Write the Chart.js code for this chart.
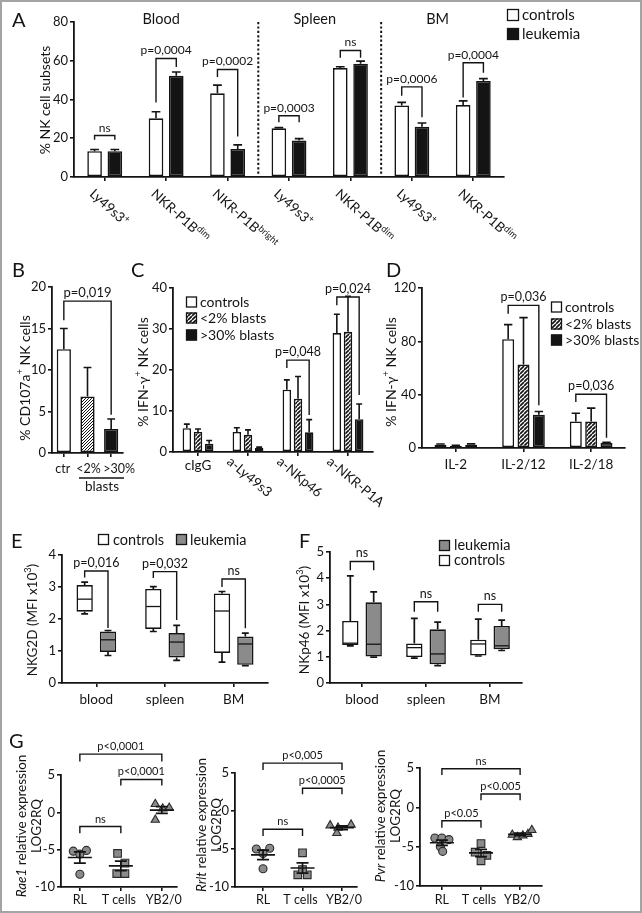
<!DOCTYPE html>
<html>
<head>
<meta charset="utf-8">
<title>NK cells in leukemia</title>
<script src="https://cdn.jsdelivr.net/npm/chart.js@4.4.1/dist/chart.umd.min.js"></script>
<style>
  html, body { margin: 0; background: #fff; }
  #page { position: relative; width: 642px; height: 913px; overflow: hidden; background: #fff; }
  #page canvas { position: absolute; }
  #frame { position: absolute; left: 0; top: 0; width: 642px; height: 913px; box-sizing: border-box; border: 2px solid #a3a3a3; }
</style>
</head>
<body>
<div id="page">
  <canvas id="panelA"></canvas>
  <canvas id="panelB"></canvas>
  <canvas id="panelC"></canvas>
  <canvas id="panelD"></canvas>
  <canvas id="panelE"></canvas>
  <canvas id="panelF"></canvas>
  <canvas id="panelG1"></canvas>
  <canvas id="panelG2"></canvas>
  <canvas id="panelG3"></canvas>
  <div id="frame"></div>
</div>
<script>
const FONT = "Lato, 'Open Sans', sans-serif";
const INK = "#141414";
const GREY = "#8b8b8b";

// ---------- A: NK subsets per organ
const aLabels = ["Ly49s3", "NKR-P1B", "NKR-P1B", "Ly49s3", "NKR-P1B", "Ly49s3", "NKR-P1B"];
const aLabelSup = ["+", "dim", "bright", "+", "dim", "+", "dim"];
const aControls = [13.3, 30.3, 43.2, 25.1, 56.2, 36.9, 37.1];
const aControlsErr = [0.9, 3.4, 4.2, 0.4, 0.7, 1.6, 2.2];
const aLeukemia = [13.3, 52.3, 14.5, 18.8, 58.5, 26.0, 49.6];
const aLeukemiaErr = [0.9, 1.9, 2.1, 1.0, 1.3, 1.9, 1.2];
const aTicks = [0, 20, 40, 60, 80];
const aTissues = ["Blood", "Spleen", "BM"];
const aTissueSpan = [[0, 2], [3, 4], [5, 6]];
// [category, bracket, left end, right end, text]
const aStats = [
  [0, 21.4, 19.2, 19.2, "ns"],
  [1, 61.2, 38.5, 56.8, "p=0,0004"],
  [2, 55.5, 51.6, 20.9, "p=0,0002"],
  [3, 31.6, 28.2, 28.2, "p=0,0003"],
  [4, 65.3, 61.5, 61.5, "ns"],
  [5, 46.5, 41.9, 30.8, "p=0,0006"],
  [6, 59.0, 41.0, 53.8, "p=0,0004"],
];

// ---------- B: CD107a
const bLabels = ["ctr", "<2%", ">30%"];
const bValues = [12.5, 6.8, 2.9];
const bErr = [2.5, 3.5, 1.2];
const bTicks = [0, 5, 10, 15, 20];

// ---------- C: IFN-g after receptor triggering
const cLabels = ["cIgG", "a-Ly49s3", "a-NKp46", "a-NKR-P1A"];
const cControls = [5.8, 4.9, 15.2, 29.0];
const cControlsErr = [1.0, 1.0, 2.4, 4.6];
const cLow = [4.9, 4.2, 13.0, 29.3];
const cLowErr = [0.7, 1.2, 5.4, 8.7];
const cHigh = [2.0, 1.0, 4.8, 8.0];
const cHighErr = [0.8, 0.2, 3.1, 3.7];
const cTicks = [0, 10, 20, 30, 40];
const cStats = [[2, 22.4, 20.5, 9.0, "p=0,048"], [3, 37.8, 35.8, 13.9, "p=0,024"]];

// ---------- D: IFN-g after cytokines
const dLabels = ["IL-2", "IL-2/12", "IL-2/18"];
const dControls = [2.5, 81.6, 19.9];
const dControlsErr = [0.5, 10.9, 6.2];
const dLow = [1.5, 62.7, 19.9];
const dLowErr = [0.5, 35.1, 10.0];
const dHigh = [2.5, 24.9, 3.7];
const dHighErr = [0.6, 2.5, 0.5];
const dTicks = [0, 40, 80, 120];
const dStats = [[1, 107, 100.7, 32, "p=0,036"], [2, 40.3, 34.5, 7.7, "p=0,036"]];
const blastGroups = ["controls", "<2% blasts", ">30% blasts"];

// ---------- E / F: MFI boxes, [min, q1, median, q3, max]
const organs = ["blood", "spleen", "BM"];
const eControls = [[2.16, 2.23, 2.62, 3.06, 3.15], [1.61, 1.69, 2.39, 2.94, 3.01], [0.65, 0.94, 2.25, 2.8, 2.86]];
const eLeukemia = [[0.86, 0.97, 1.35, 1.61, 1.64], [0.71, 0.8, 1.28, 1.56, 1.8], [0.54, 0.57, 1.22, 1.45, 1.56]];
const eTicks = [0, 1, 2, 3, 4];
const eStats = [[0, 3.5, 3.3, 1.72, "p=0,016"], [1, 3.48, 3.28, 1.97, "p=0,032"], [2, 3.25, 3.0, 1.71, "ns"]];
const fControls = [[1.42, 1.45, 1.52, 2.37, 4.09], [0.95, 0.99, 1.35, 1.51, 2.47], [1.03, 1.05, 1.49, 1.65, 2.44]];
const fLeukemia = [[0.99, 1.01, 1.48, 3.08, 3.48], [0.66, 0.72, 1.11, 2.05, 2.32], [1.24, 1.29, 1.42, 2.18, 2.4]];
const fTicks = [0, 1, 2, 3, 4, 5];
const fStats = [[0, 4.64, 4.3, 4.3, "ns"], [1, 3.1, 2.72, 2.72, "ns"], [2, 3.0, 2.72, 2.72, "ns"]];

// ---------- G: ligand expression, LOG2RQ per target
const gGroups = ["RL", "T cells", "YB2/0"];
const gTicks = [-10, -5, 0, 5];
const rae1 = [[-5.2, -5.6, -5.1, -8.3], [-5.5, -6.8, -8.2, -8.2], [1.1, 0.5, 0.6, -1.0]];
const rrlt = [[-5.0, -5.6, -4.9, -7.6], [-5.5, -8.4, -8.4, -7.7], [-1.9, -2.2, -1.8, -2.9]];
const pvr = [[-3.9, -3.9, -4.1, -5.0, -5.6], [-4.6, -5.7, -6.1, -6.8], [-3.5, -3.8, -3.6, -3.4, -2.9]];
// [from group, to group, bracket, leg end, text]
const rae1Stats = [[0, 2, 7.8, 6.8, "p<0,0001"], [1, 2, 4.4, 3.6, "p<0,0001"], [0, 1, -1.9, -2.8, "ns"]];
const rrltStats = [[0, 2, 6.3, 5.4, "p<0,005"], [1, 2, 3.0, 2.2, "p<0,0005"], [0, 1, -2.4, -3.3, "ns"]];
const pvrStats = [[0, 2, 4.9, 4.1, "ns"], [1, 2, 1.7, 0.9, "p<0.005"], [0, 1, -1.7, -2.6, "p<0.05"]];

// horizontal spread of dots inside a column (layout only)
const rae1Dodge = [[-0.16, 0, 0.16, 0], [-0.08, 0.1, -0.1, 0.1], [-0.16, 0.02, 0.18, -0.16]];
const rrltDodge = [[-0.17, 0, 0.17, 0], [0, -0.12, 0.12, 0], [-0.3, -0.1, 0.23, -0.13]];
const pvrDodge = [[-0.18, 0, 0.18, -0.04, 0.02], [0, -0.15, 0.15, 0], [-0.2, -0.07, 0.07, 0.2, 0.3]];

// ---------- helpers
function setFont(ctx, size, style) {
  ctx.font = `${style || "normal"} ${size}px ${FONT}`;
}

function partFont(ctx, kind, size) {
  setFont(ctx, kind === "sup" ? size * 0.68 : size, kind === "italic" ? "italic" : "normal");
}

// parts: [[text, kind]] with kind "", "sup" or "italic"
function rich(ctx, parts, x, y, size, align) {
  let w = 0;
  parts.forEach(([t, k]) => { partFont(ctx, k, size); w += ctx.measureText(t).width; });
  let cx = align === "center" ? x - w / 2 : align === "right" ? x - w : x;
  ctx.textAlign = "left";
  parts.forEach(([t, k]) => {
    partFont(ctx, k, size);
    ctx.fillText(t, cx, k === "sup" ? y - size * 0.38 : y);
    cx += ctx.measureText(t).width;
  });
}

function rotated(ctx, parts, x, y, angle, size, align, baseline) {
  ctx.save();
  ctx.translate(x, y);
  ctx.rotate(angle);
  ctx.textBaseline = baseline || "alphabetic";
  rich(ctx, parts, 0, 0, size, align);
  ctx.restore();
}

function label(ctx, t, x, y, size, align) {
  setFont(ctx, size);
  ctx.textAlign = align || "center";
  ctx.textBaseline = "alphabetic";
  ctx.fillText(t, x, y);
}

function bracket(ctx, x1, x2, y, y1, y2, t, size) {
  ctx.lineWidth = 1.4;
  ctx.beginPath();
  ctx.moveTo(x1, y1);
  ctx.lineTo(x1, y);
  ctx.lineTo(x2, y);
  ctx.lineTo(x2, y2);
  ctx.stroke();
  label(ctx, t, (x1 + x2) / 2, y - 4, size || 12);
}

function legendBox(ctx, x, y, s, fill) {
  ctx.fillStyle = fill;
  ctx.fillRect(x, y, s, s);
  ctx.lineWidth = 1.3;
  ctx.strokeRect(x + 0.5, y + 0.5, s - 1, s - 1);
  ctx.fillStyle = INK;
}

function hatch(period, width) {
  const tile = document.createElement("canvas");
  tile.width = tile.height = period;
  const g = tile.getContext("2d");
  g.fillStyle = "#fff";
  g.fillRect(0, 0, period, period);
  g.strokeStyle = INK;
  g.lineWidth = width;
  g.beginPath();
  for (let k = -1; k <= 1; k++) {
    g.moveTo(k * period, period);
    g.lineTo(k * period + period, 0);
  }
  g.stroke();
  return g.createPattern(tile, "repeat");
}

function errorBars(ctx, P, cap) {
  ctx.lineWidth = 1.6;
  P.chart.data.datasets.forEach((ds, d) => {
    ds.data.forEach((v, i) => {
      const x = P.bx(d, i);
      const top = P.y(v + ds.err[i]);
      const h = (P.bw(d, i) * cap) / 2;
      ctx.beginPath();
      ctx.moveTo(x, P.y(v));
      ctx.lineTo(x, top);
      ctx.moveTo(x - h, top);
      ctx.lineTo(x + h, top);
      ctx.stroke();
    });
  });
}

function whiskers(ctx, P, cap) {
  P.chart.data.datasets.forEach((ds, d) => {
    ds.stats.forEach(([mn, q1, md, q3, mx], i) => {
      const x = P.bx(d, i);
      const w = P.bw(d, i);
      const h = (w * cap) / 2;
      ctx.lineWidth = 1.7;
      ctx.beginPath();
      ctx.moveTo(x, P.y(q3));
      ctx.lineTo(x, P.y(mx));
      ctx.moveTo(x - h, P.y(mx));
      ctx.lineTo(x + h, P.y(mx));
      ctx.moveTo(x, P.y(q1));
      ctx.lineTo(x, P.y(mn));
      ctx.moveTo(x - h, P.y(mn));
      ctx.lineTo(x + h, P.y(mn));
      ctx.stroke();
      ctx.lineWidth = 1.3;
      ctx.beginPath();
      ctx.moveTo(x - w / 2 + 1, P.y(md));
      ctx.lineTo(x + w / 2 - 1, P.y(md));
      ctx.stroke();
    });
  });
}

function meanSem(ctx, P, groups) {
  groups.forEach((vals, g) => {
    const n = vals.length;
    const m = vals.reduce((a, b) => a + b, 0) / n;
    const sd = Math.sqrt(vals.reduce((a, v) => a + (v - m) ** 2, 0) / (n - 1));
    const se = sd / Math.sqrt(n);
    const x = P.x(g);
    ctx.lineWidth = 1.7;
    ctx.beginPath();
    ctx.moveTo(x - 12, P.y(m));
    ctx.lineTo(x + 12, P.y(m));
    ctx.moveTo(x, P.y(m + se));
    ctx.lineTo(x, P.y(m - se));
    ctx.moveTo(x - 6, P.y(m + se));
    ctx.lineTo(x + 6, P.y(m + se));
    ctx.moveTo(x - 6, P.y(m - se));
    ctx.lineTo(x + 6, P.y(m - se));
    ctx.stroke();
  });
}

function xAxis(extra) {
  return Object.assign({
    ticks: { display: false },
    grid: { offset: false, drawOnChartArea: false, drawTicks: true, tickLength: 4, color: INK, lineWidth: 1.6 },
    border: { color: INK, width: 1.8 },
  }, extra);
}

function yAxis(ticks) {
  return {
    min: ticks[0],
    max: ticks[ticks.length - 1],
    afterBuildTicks: (s) => { s.ticks = ticks.map((v) => ({ value: v })); },
    ticks: { color: INK, padding: 2, font: { family: FONT, size: 13 } },
    grid: { drawOnChartArea: false, drawTicks: true, tickLength: 4, color: INK, lineWidth: 1.6 },
    border: { color: INK, width: 1.8 },
  };
}

// box: canvas rect on the page, area: [left, top, right, bottom] of the plot on the page
function makeChart(id, box, area, config, draw) {
  const canvas = document.getElementById(id);
  canvas.width = box[2];
  canvas.height = box[3];
  canvas.style.left = box[0] + "px";
  canvas.style.top = box[1] + "px";
  const opts = config.options;
  opts.responsive = false;
  opts.animation = false;
  opts.events = [];
  opts.layout = { padding: { left: 0, bottom: 0, top: area[1] - box[1], right: box[0] + box[2] - area[2] } };
  opts.plugins = { legend: { display: false }, tooltip: { enabled: false } };
  opts.scales.x.afterFit = (s) => { s.height = box[1] + box[3] - area[3]; };
  opts.scales.y.afterFit = (s) => { s.width = area[0] - box[0]; };
  config.plugins = [{
    id: id + "Extras",
    afterDraw(chart) {
      const ctx = chart.ctx;
      const sx = chart.scales.x;
      const sy = chart.scales.y;
      ctx.save();
      ctx.translate(-box[0], -box[1]);
      ctx.fillStyle = INK;
      ctx.strokeStyle = INK;
      draw(ctx, {
        chart,
        x: (v) => sx.getPixelForValue(v) + box[0],
        y: (v) => sy.getPixelForValue(v) + box[1],
        bx: (d, i) => chart.getDatasetMeta(d).data[i].x + box[0],
        bw: (d, i) => chart.getDatasetMeta(d).data[i].width,
      });
      ctx.restore();
    },
  }];
  return new Chart(canvas, config);
}

function barSet(data, err, fill, cat, bar) {
  return {
    data, err,
    backgroundColor: fill,
    borderColor: INK,
    borderWidth: 1.6,
    borderSkipped: false,
    categoryPercentage: cat,
    barPercentage: bar,
  };
}

const DEG = Math.PI / 180;
const hatchC = hatch(4, 1.7);
const hatchB = hatch(3, 1);

// ---------- panel A
makeChart("panelA", [0, 0, 642, 262], [74, 22, 504, 177], {
  type: "bar",
  data: {
    labels: aLabels,
    datasets: [
      barSet(aControls, aControlsErr, "#fff", 0.66, 0.72),
      barSet(aLeukemia, aLeukemiaErr, INK, 0.66, 0.72),
    ],
  },
  options: { scales: { x: xAxis(), y: yAxis(aTicks) } },
}, (ctx, P) => {
  errorBars(ctx, P, 0.6);
  aStats.forEach(([i, y, l, r, t]) => bracket(ctx, P.bx(0, i), P.bx(1, i), P.y(y), P.y(l), P.y(r), t, 12));
  ctx.save();
  ctx.setLineDash([2.2, 2.2]);
  ctx.lineWidth = 2;
  [2.5, 4.5].forEach((v) => {
    ctx.beginPath();
    ctx.moveTo(P.x(v), P.y(80));
    ctx.lineTo(P.x(v), P.y(0));
    ctx.stroke();
  });
  ctx.restore();
  aTissues.forEach((t, k) => label(ctx, t, (P.x(aTissueSpan[k][0]) + P.x(aTissueSpan[k][1])) / 2 - 5, 24, 14.5));
  aLabels.forEach((t, i) => rotated(ctx, [[t, ""], [aLabelSup[i], "sup"]], P.x(i) - 16, P.y(0) + 18, 42 * DEG, 13.5, "left"));
  rotated(ctx, [["% NK cell subsets", ""]], 45, 100, -Math.PI / 2, 14, "center", "middle");
  legendBox(ctx, 507, 9, 12, "#fff");
  legendBox(ctx, 507, 28, 12, INK);
  label(ctx, "controls", 522, 20, 15, "left");
  label(ctx, "leukemia", 522, 39, 15, "left");
  label(ctx, "A", 12, 27, 20, "left");
});

// ---------- panel B
makeChart("panelB", [0, 250, 140, 250], [52, 287, 123, 453], {
  type: "bar",
  data: { labels: bLabels, datasets: [barSet(bValues, bErr, ["#fff", hatchB, INK], 0.6, 1)] },
  options: { scales: { x: xAxis(), y: yAxis(bTicks) } },
}, (ctx, P) => {
  errorBars(ctx, P, 0.55);
  bracket(ctx, P.bx(0, 0), P.bx(0, 2), P.y(18.3), P.y(16.0), P.y(4.6), "p=0,019", 13);
  bLabels.forEach((t, i) => label(ctx, t, P.x(i) + [-1, 1, 8][i], 473, 12.5));
  ctx.lineWidth = 1.4;
  ctx.beginPath();
  ctx.moveTo(79, 478);
  ctx.lineTo(124, 478);
  ctx.stroke();
  label(ctx, "blasts", 102, 491, 13.5);
  rotated(ctx, [["% CD107a", ""], ["+", "sup"], [" NK cells", ""]], 25, 378, -Math.PI / 2, 14, "center", "middle");
  label(ctx, "B", 12, 277, 20, "left");
});

// ---------- panel C
makeChart("panelC", [125, 250, 270, 262], [173, 288, 373, 452], {
  type: "bar",
  data: {
    labels: cLabels,
    datasets: [
      barSet(cControls, cControlsErr, "#fff", 0.67, 0.76),
      barSet(cLow, cLowErr, hatchC, 0.67, 0.76),
      barSet(cHigh, cHighErr, INK, 0.67, 0.76),
    ],
  },
  options: { scales: { x: xAxis(), y: yAxis(cTicks) } },
}, (ctx, P) => {
  errorBars(ctx, P, 0.7);
  cStats.forEach(([i, y, l, r, t]) => bracket(ctx, P.bx(0, i), P.bx(2, i), P.y(y), P.y(l), P.y(r), t, 12.5));
  cLabels.forEach((t, i) => {
    if (i === 0) label(ctx, t, P.x(0), 470, 13.5);
    else rotated(ctx, [[t, ""]], P.x(i) - 22, P.y(0) + 11, 40 * DEG, 13.5, "left");
  });
  [["#fff", 302], [hatchC, 318], [INK, 335]].forEach(([fill, cy], k) => {
    legendBox(ctx, 186, cy - 5.5, 11, fill);
    label(ctx, blastGroups[k], 200, cy + 5, 14, "left");
  });
  rotated(ctx, [["% IFN-\u03b3", ""], ["+", "sup"], [" NK cells", ""]], 143, 372, -Math.PI / 2, 14, "center", "middle");
  label(ctx, "C", 131, 277, 20, "left");
});

// ---------- panel D
makeChart("panelD", [380, 250, 262, 240], [422, 288, 625, 448], {
  type: "bar",
  data: {
    labels: dLabels,
    datasets: [
      barSet(dControls, dControlsErr, "#fff", 0.68, 0.78),
      barSet(dLow, dLowErr, hatchC, 0.68, 0.78),
      barSet(dHigh, dHighErr, INK, 0.68, 0.78),
    ],
  },
  options: { scales: { x: xAxis(), y: yAxis(dTicks) } },
}, (ctx, P) => {
  errorBars(ctx, P, 0.7);
  dStats.forEach(([i, y, l, r, t]) => bracket(ctx, P.bx(0, i), P.bx(2, i), P.y(y), P.y(l), P.y(r), t, 12.5));
  dLabels.forEach((t, i) => label(ctx, t, P.x(i), 469, 13.5));
  [["#fff", 307], [hatchC, 324], [INK, 340]].forEach(([fill, cy], k) => {
    legendBox(ctx, 551, cy - 5.5, 11, fill);
    label(ctx, blastGroups[k], 565, cy + 5, 14, "left");
  });
  rotated(ctx, [["% IFN-\u03b3", ""], ["+", "sup"], [" NK cells", ""]], 391, 372, -Math.PI / 2, 14, "center", "middle");
  label(ctx, "D", 386, 277, 20, "left");
});

// ---------- panel E
makeChart("panelE", [0, 520, 300, 195], [62, 555, 268, 683], {
  type: "bar",
  data: {
    labels: organs,
    datasets: [
      Object.assign(barSet(eControls.map((s) => [s[1], s[3]]), null, "#fff", 0.68, 0.7), { stats: eControls }),
      Object.assign(barSet(eLeukemia.map((s) => [s[1], s[3]]), null, GREY, 0.68, 0.7), { stats: eLeukemia }),
    ],
  },
  options: { scales: { x: xAxis(), y: yAxis(eTicks) } },
}, (ctx, P) => {
  whiskers(ctx, P, 0.42);
  eStats.forEach(([i, y, l, r, t]) => bracket(ctx, P.bx(0, i), P.bx(1, i), P.y(y), P.y(l), P.y(r), t, 12.5));
  organs.forEach((t, i) => label(ctx, t, P.x(i), 704, 13.5));
  legendBox(ctx, 98, 534, 11, "#fff");
  label(ctx, "controls", 113, 545, 14.5, "left");
  legendBox(ctx, 176, 534, 11, GREY);
  label(ctx, "leukemia", 190, 545, 14.5, "left");
  rotated(ctx, [["NKG2D (MFI x10", ""], ["3", "sup"], [")", ""]], 33, 620, -Math.PI / 2, 13.5, "center", "middle");
  label(ctx, "E", 11, 548, 20, "left");
});

// ---------- panel F
makeChart("panelF", [290, 520, 350, 195], [330, 552, 522, 683], {
  type: "bar",
  data: {
    labels: organs,
    datasets: [
      Object.assign(barSet(fControls.map((s) => [s[1], s[3]]), null, "#fff", 0.73, 0.7), { stats: fControls }),
      Object.assign(barSet(fLeukemia.map((s) => [s[1], s[3]]), null, GREY, 0.73, 0.7), { stats: fLeukemia }),
    ],
  },
  options: { scales: { x: xAxis(), y: yAxis(fTicks) } },
}, (ctx, P) => {
  whiskers(ctx, P, 0.42);
  fStats.forEach(([i, y, l, r, t]) => bracket(ctx, P.bx(0, i), P.bx(1, i), P.y(y), P.y(l), P.y(r), t, 12.5));
  organs.forEach((t, i) => label(ctx, t, P.x(i), 704, 13.5));
  legendBox(ctx, 439, 540, 11, GREY);
  label(ctx, "leukemia", 454, 550, 14.5, "left");
  legendBox(ctx, 439, 555, 11, "#fff");
  label(ctx, "controls", 454, 565, 14.5, "left");
  rotated(ctx, [["NKp46 (MFI x10", ""], ["3", "sup"], [")", ""]], 305, 620, -Math.PI / 2, 13.5, "center", "middle");
  label(ctx, "F", 299, 548, 20, "left");
});

// ---------- panel G
const markerStyles = ["circle", "rect", "triangle"];
const markerSizes = [4, 5.4, 4.8];

function scatterSets(groups, dodge) {
  return groups.map((vals, g) => ({
    data: vals.map((v, k) => ({ x: g + dodge[g][k], y: v })),
    pointStyle: markerStyles[g],
    pointRadius: markerSizes[g],
    pointBackgroundColor: GREY,
    pointBorderColor: "#2a2a2a",
    pointBorderWidth: 1.1,
  }));
}

function gPanel(id, box, area, range, groups, dodge, stats, gene, titleX, titleY, extra) {
  makeChart(id, box, area, {
    type: "scatter",
    data: { datasets: scatterSets(groups, dodge) },
    options: {
      scales: {
        x: xAxis({
          type: "linear",
          min: range[0],
          max: range[1],
          afterBuildTicks: (s) => { s.ticks = gGroups.map((_, i) => ({ value: i })); },
        }),
        y: yAxis(gTicks),
      },
    },
  }, (ctx, P) => {
    meanSem(ctx, P, groups);
    stats.forEach(([a, b, y, leg, t]) => bracket(ctx, P.x(a), P.x(b), P.y(y), P.y(leg), P.y(leg), t, 11));
    gGroups.forEach((t, i) => label(ctx, t, P.x(i) + [0, -2, 2][i], 904, 12.5));
    rotated(ctx, [[gene, "italic"], [" relative expression", ""]], titleX, titleY, -Math.PI / 2, 13.5, "center", "middle");
    rotated(ctx, [["LOG2RQ", ""]], titleX + 15, titleY, -Math.PI / 2, 13.5, "center", "middle");
    if (extra) extra(ctx);
  });
}

gPanel("panelG1", [0, 728, 200, 182], [61, 775, 177, 887], [-0.46, 2.37], rae1, rae1Dodge, rae1Stats, "Rae1", 22, 826,
  (ctx) => label(ctx, "G", 9, 748, 20, "left"));
gPanel("panelG2", [188, 728, 185, 182], [235, 773, 357, 887], [-0.71, 2.38], rrlt, rrltDodge, rrltStats, "Rrlt", 202, 825);
gPanel("panelG3", [370, 728, 268, 182], [420, 768, 542, 886], [-0.56, 2.56], pvr, pvrDodge, pvrStats, "Pvr", 381, 816);
</script>
</body>
</html>
